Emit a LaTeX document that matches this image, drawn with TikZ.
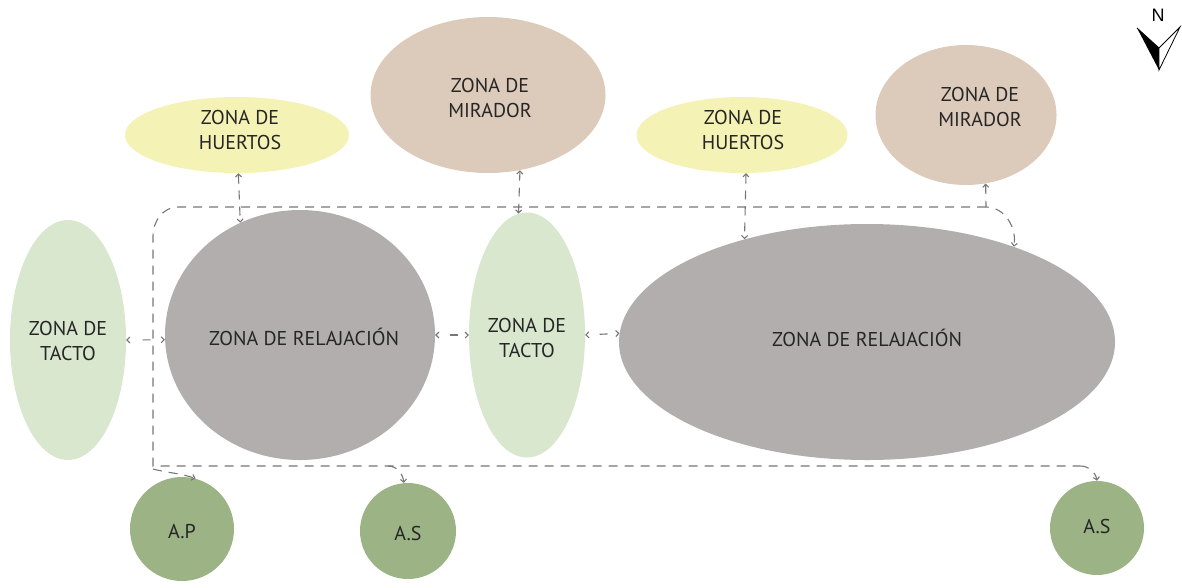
\documentclass[tikz,border=0pt]{standalone}
\usepackage{fontspec}
\setmainfont{PT Sans}
\newfontfamily\nfont{Liberation Sans}
\usetikzlibrary{shapes.geometric,arrows.meta}
\definecolor{huerto}{HTML}{F4F2B5}
\definecolor{mirador}{HTML}{DCCBBA}
\definecolor{tacto}{HTML}{D8E7CD}
\definecolor{relax}{HTML}{B2AEAE}
\definecolor{acceso}{HTML}{9CB385}
\definecolor{txtc}{HTML}{262626}
\definecolor{linec}{HTML}{777777}
\tikzset{
  zone/.style={ellipse, draw=none, inner sep=0pt},
  txt/.style={align=center, text=txtc, font=\fontsize{20}{25}\selectfont, inner sep=0pt},
  conn/.style={draw=linec, line width=1.1pt, dash pattern=on 9pt off 7pt,
    arrows={-Straight Barb[length=3pt,width=6pt]}},
  dconn/.style={conn, arrows={Straight Barb[length=3pt,width=6pt]-Straight Barb[length=3pt,width=6pt]}},
  sconn/.style={dconn, dash pattern=on 0pt off #1 on 8pt off 60pt},
  bus/.style={draw=linec, line width=1.1pt, dash pattern=on 9pt off 7pt},
}
\begin{document}
\begin{tikzpicture}[x=1pt,y=-1pt]
\useasboundingbox (0,0) rectangle (1182,587);
% zones
\node[zone, fill=huerto, minimum width=224pt, minimum height=76pt] (hL) at (237,135) {};
\node[zone, fill=mirador, minimum width=235pt, minimum height=156pt] (mM) at (488,95) {};
\node[zone, fill=huerto, minimum width=211pt, minimum height=76pt] (hR) at (742,135) {};
\node[zone, fill=mirador, minimum width=181pt, minimum height=140pt] (mR) at (966,115) {};
\node[zone, fill=tacto, minimum width=116pt, minimum height=240pt] (tL) at (68,340) {};
\node[zone, fill=relax, minimum width=270pt, minimum height=250pt] (rL) at (300,335) {};
\node[zone, fill=tacto, minimum width=116pt, minimum height=245pt] (tM) at (527,335) {};
\node[zone, fill=relax, minimum width=496pt, minimum height=236pt] (rR) at (867,342) {};
\node[circle, fill=acceso, minimum size=104pt, inner sep=0pt] (AP) at (182,529) {};
\node[circle, fill=acceso, minimum size=96pt, inner sep=0pt] (AS1) at (408,531) {};
\node[circle, fill=acceso, minimum size=94pt, inner sep=0pt] (AS2) at (1097,528) {};
% texts
\node[txt] (thL) at (240,130) {ZONA DE\\HUERTOS};
\node[txt] (tmM) at (490,98) {ZONA DE\\MIRADOR};
\node[txt] (thR) at (743,130) {ZONA DE\\HUERTOS};
\node[txt] (tmR) at (980,107) {ZONA DE\\MIRADOR};
\node[txt] (ttL) at (68,341) {ZONA DE\\TACTO};
\node[txt] (trL) at (304,337) {ZONA DE RELAJACIÓN};
\node[txt] (ttM) at (527,338) {ZONA DE\\TACTO};
\node[txt] (trR) at (867,338) {ZONA DE RELAJACIÓN};
\node[txt] (tAP) at (182,531) {A.P};
\node[txt] (tAS1) at (408,533) {A.S};
\node[txt] (tAS2) at (1097,526) {A.S};
% bus coordinates
\coordinate (b1) at (986,207);
\coordinate (b2) at (178,207);
\coordinate (b3) at (153,236);
\coordinate (b4) at (153,466);
\coordinate (b5) at (1080,466);
\coordinate (b6) at (153,469);
\coordinate (b7) at (388,466);
% vertical links
\draw[dconn] (hL.-88) -- (rL.118);
\draw[dconn] (mM.-67) -- (tM.94);
\draw[dconn] (hR.-84) -- (rR.140);
\draw[dconn] (mR.-74) -- (b1) to[out=0,in=80] (rR.33);
% horizontal links
\draw[sconn=15pt] (tL.east) -- (rL.182);
\draw[sconn=13pt] (rL.east) -- (tM.west);
\draw[sconn=13pt] (tM.east) -- (rR.178);
% bus
\draw[bus] (b1) -- (b2) to[out=180,in=90] (b3) -- (b4) -- (b5);
\draw[conn] (b5) to[out=0,in=100] (AS2.north);
\draw[conn] (b6) to[out=-15,in=160] (AP.75);
\draw[conn] (b7) to[out=0,in=95] (AS1.95);
% north arrow
\node[font=\nfont\fontsize{18}{18}\selectfont, inner sep=0pt] (N) at (1158,15) {N};
\fill[black] (1137,28) -- (1159,48) -- (1159,70) -- cycle;
\draw[line width=0.8pt, fill=white, line join=miter] (1159,48) -- (1180,27) -- (1159,70) -- cycle;
\draw[line width=0.8pt] (1137,28) -- (1159,48);
\end{tikzpicture}
\end{document}
